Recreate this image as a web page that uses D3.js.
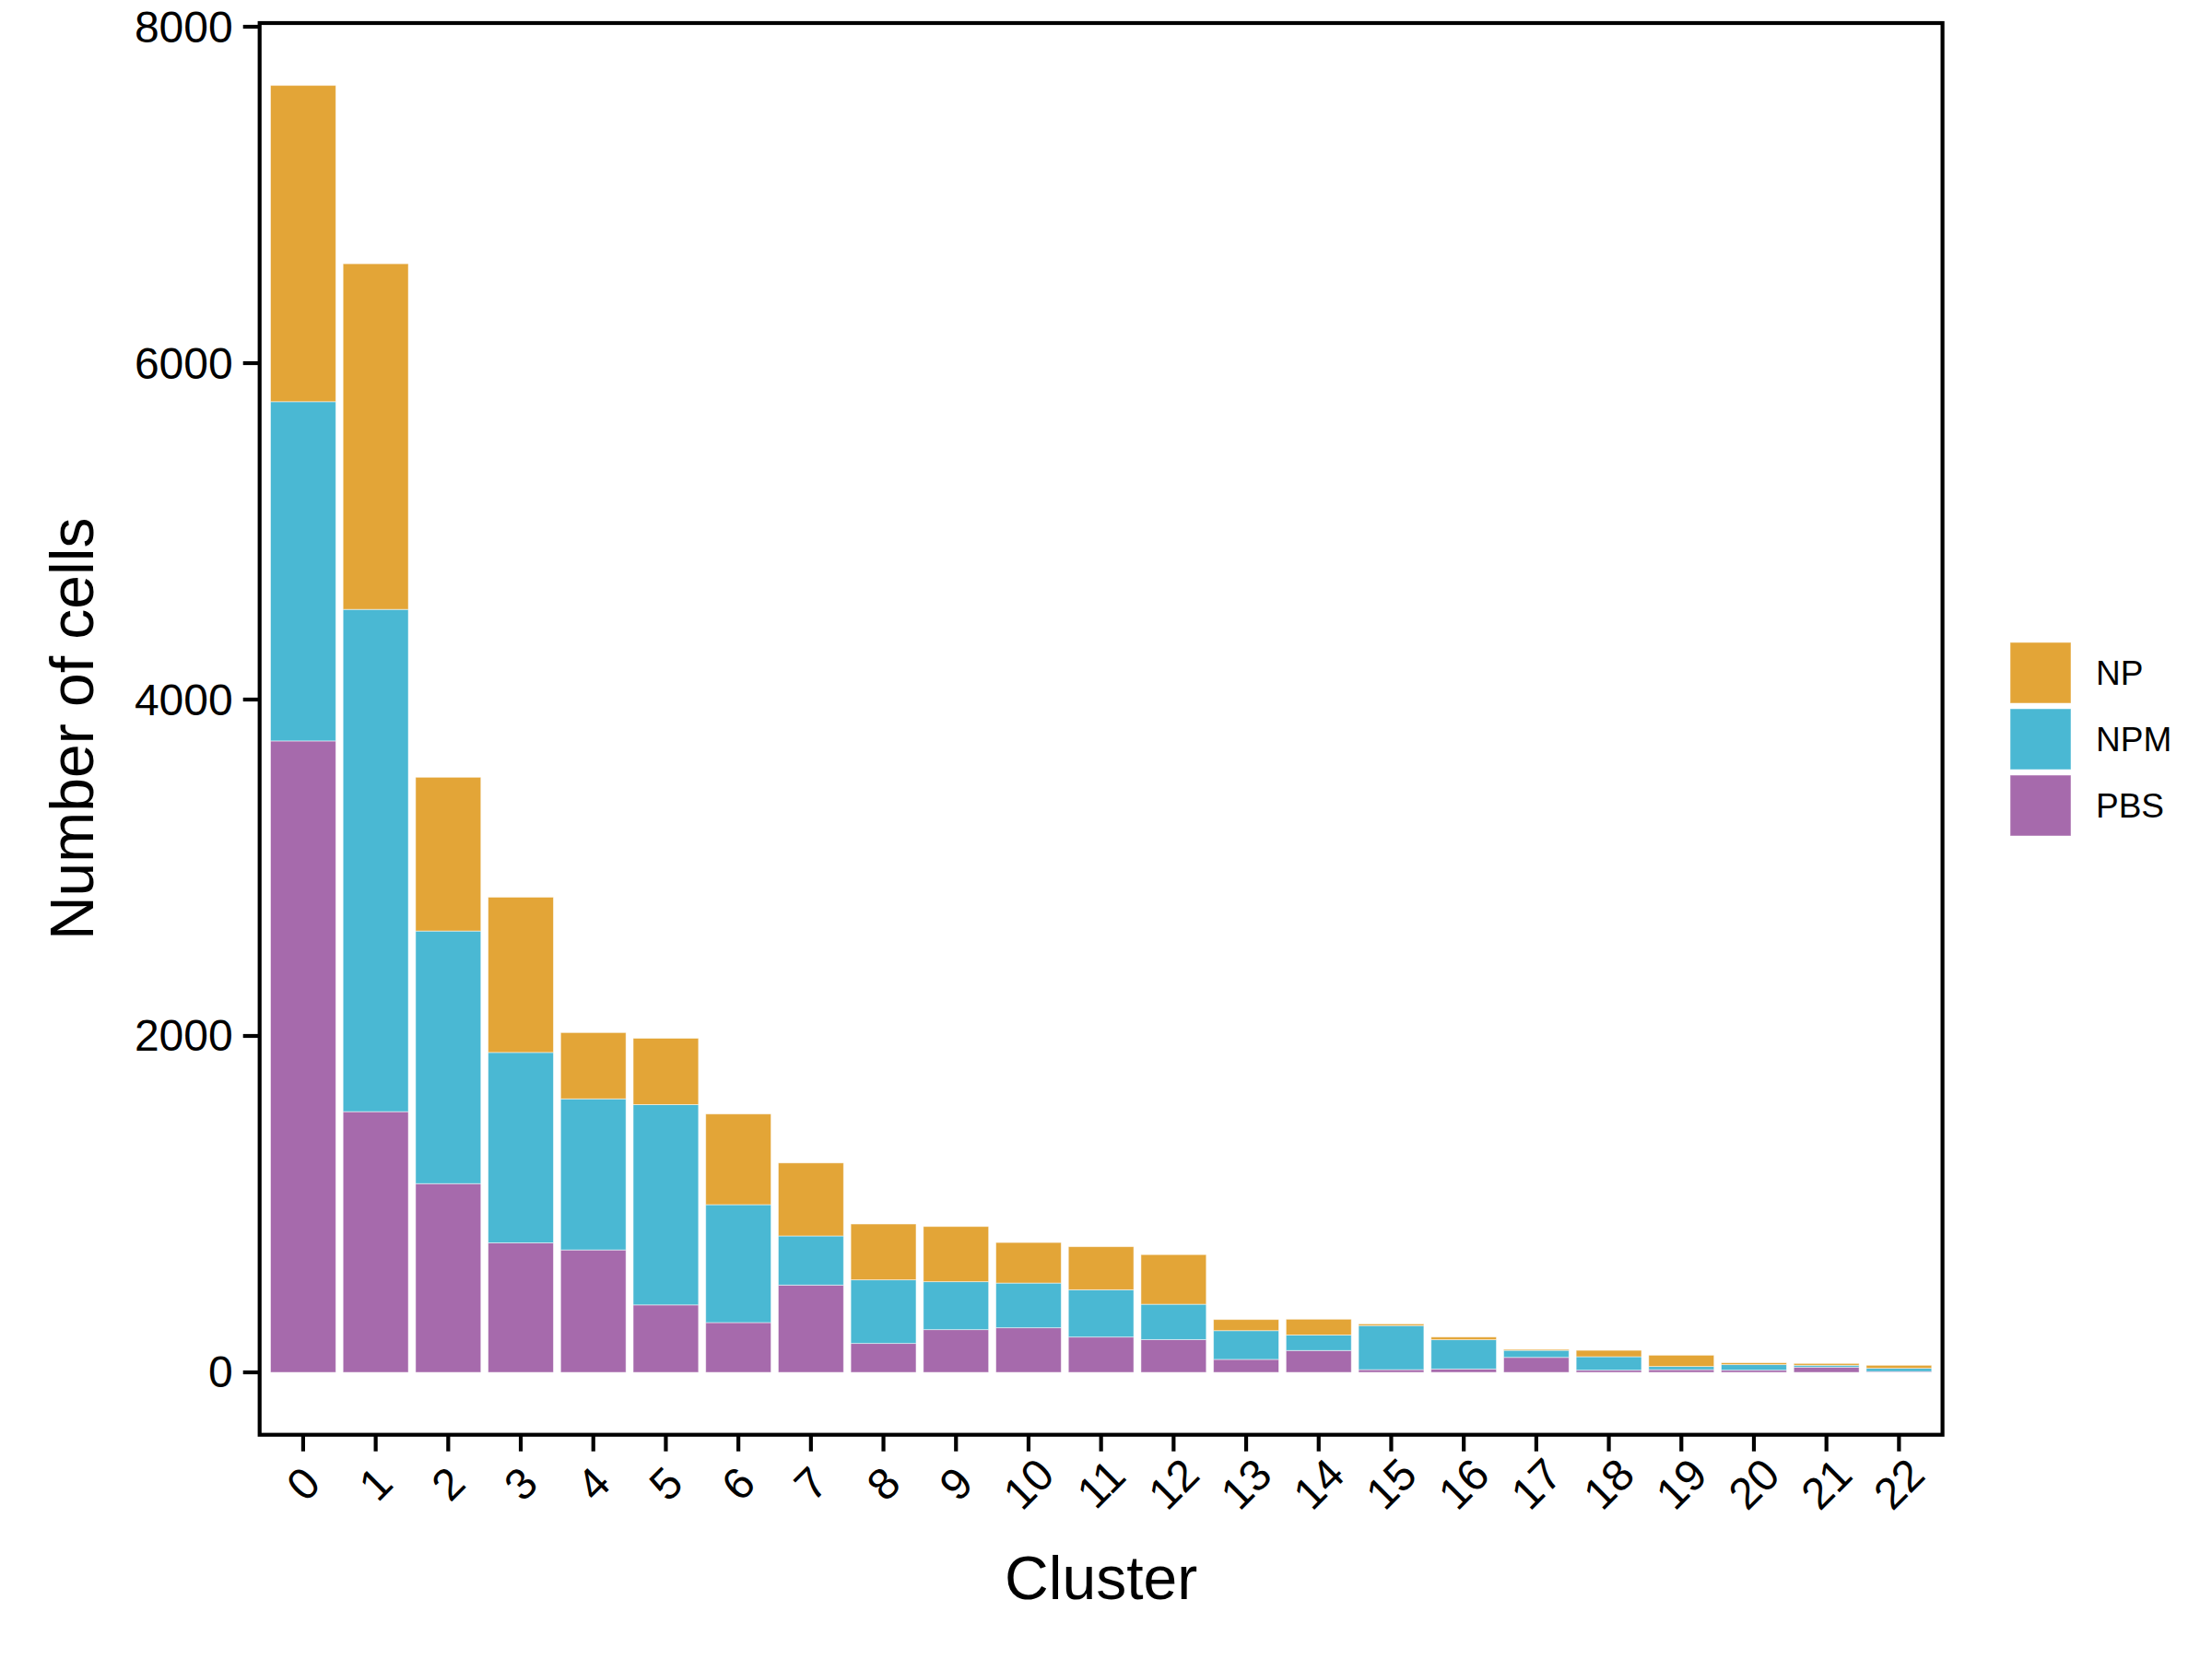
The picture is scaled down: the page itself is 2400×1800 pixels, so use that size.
<!DOCTYPE html>
<html>
<head>
<meta charset="utf-8">
<script src="https://cdn.jsdelivr.net/npm/d3@7"></script>
<style>
  html, body { margin: 0; padding: 0; background: #fff; }
  text { font-family: "Liberation Sans", Arial, Helvetica, sans-serif; fill: #000; }
</style>
</head>
<body>
<svg id="chart" width="2400" height="1800"></svg>
<script>
// ---- data ----
const clusters = ["0","1","2","3","4","5","6","7","8","9","10","11","12","13","14","15","16","17","18","19","20","21","22"];
const groups = ["NP", "NPM", "PBS"];           // legend order (top of stack first)
const colors = ["#E3A537", "#4AB8D3", "#A66AAC"];
const PBS = [3754, 1550, 1122, 770, 728, 401, 296, 519, 172, 254, 265, 210, 195, 77, 130, 16, 20, 89, 13, 16, 13, 31, 5];
const NPM = [2017, 2986, 1502, 1132, 898, 1191, 701, 292, 378, 285, 266, 281, 210, 171, 92, 262, 174, 42, 80, 19, 33, 11, 19];
const NP  = [1880, 2055, 914, 923, 394, 394, 539, 434, 332, 328, 241, 256, 295, 66, 94, 10, 16, 6, 38, 67, 11, 11, 18];
const yTicks = [0, 2000, 4000, 6000, 8000];

(function () {
  const svg = d3.select("#chart");
  const pLeft = 281.7, pRight = 2107.6, pTop = 25, pBottom = 1556.7;

  // discrete x with 0.6-unit expansion on each side (ggplot style)
  const step = (pRight - pLeft) / (clusters.length - 1 + 1.2);
  const x = d3.scalePoint().domain(clusters)
    .range([pLeft + 0.6 * step, pRight - 0.6 * step]);
  const barW = step * 0.9;

  const y = d3.scaleLinear().domain([-371, 8022]).range([pBottom, pTop]);

  const rows = clusters.map((c, i) => ({ cluster: c, PBS: PBS[i], NPM: NPM[i], NP: NP[i] }));
  const series = d3.stack().keys(["PBS", "NPM", "NP"])(rows);
  const colorOf = d3.scaleOrdinal().domain(groups).range(colors);

  const g = svg.append("g");
  series.forEach(s => {
    g.selectAll(null).data(s).enter().append("rect")
      .attr("x", d => x(d.data.cluster) - barW / 2)
      .attr("width", barW)
      .attr("y", d => y(d[1]))
      .attr("height", d => Math.max(0, y(d[0]) - y(d[1])))
      .attr("fill", colorOf(s.key))
      .attr("stroke", "#ffffff")
      .attr("stroke-opacity", 0.55)
      .attr("stroke-width", 0.9);
  });

  // panel border
  svg.append("rect")
    .attr("x", pLeft).attr("y", pTop)
    .attr("width", pRight - pLeft).attr("height", pBottom - pTop)
    .attr("fill", "none").attr("stroke", "#000").attr("stroke-width", 4.2);

  // y axis
  const yAxis = svg.append("g");
  yTicks.forEach(t => {
    yAxis.append("line")
      .attr("x1", pLeft - 18).attr("x2", pLeft)
      .attr("y1", y(t)).attr("y2", y(t))
      .attr("stroke", "#000").attr("stroke-width", 4.2);
    yAxis.append("text")
      .attr("x", pLeft - 29).attr("y", y(t))
      .attr("text-anchor", "end").attr("dominant-baseline", "central")
      .attr("font-size", 48).text(t);
  });

  // x axis
  const xAxis = svg.append("g");
  clusters.forEach(c => {
    const cx = x(c);
    xAxis.append("line")
      .attr("x1", cx).attr("x2", cx)
      .attr("y1", pBottom).attr("y2", pBottom + 18)
      .attr("stroke", "#000").attr("stroke-width", 4.2);
    const ly = 1610;
    xAxis.append("text")
      .attr("x", cx).attr("y", ly)
      .attr("text-anchor", "middle").attr("dominant-baseline", "central")
      .attr("transform", `rotate(-45, ${cx}, ${ly})`)
      .attr("font-size", 48).text(c);
  });

  // titles
  svg.append("text")
    .attr("x", (pLeft + pRight) / 2).attr("y", 1735)
    .attr("text-anchor", "middle").attr("font-size", 66).text("Cluster");
  svg.append("text")
    .attr("transform", `translate(101, ${(pTop + pBottom) / 2}) rotate(-90)`)
    .attr("text-anchor", "middle").attr("font-size", 66).text("Number of cells");

  // legend
  const lg = svg.append("g");
  groups.forEach((k, i) => {
    const ky = 697 + i * 72;
    lg.append("rect")
      .attr("x", 2181).attr("y", ky).attr("width", 66).attr("height", 66)
      .attr("fill", colorOf(k))
      .attr("stroke", "#fff").attr("stroke-opacity", 0.55).attr("stroke-width", 0.9);
    lg.append("text")
      .attr("x", 2274).attr("y", ky + 33)
      .attr("dominant-baseline", "central")
      .attr("font-size", 37).text(k);
  });
})();
</script>
</body>
</html>
